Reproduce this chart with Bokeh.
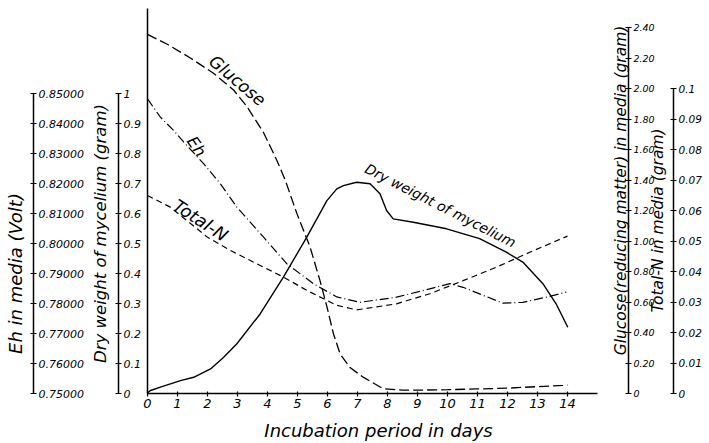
from bokeh.plotting import figure
from bokeh.models import LinearAxis, Range1d, FixedTicker, Label
from bokeh.embed import file_html
from bokeh.resources import INLINE

# ---------------- data ----------------
day_ticks = [0, 1, 2, 3, 4, 5, 6, 7, 8, 9, 10, 11, 12, 13, 14]
day_labels = [str(d) for d in day_ticks]

glucose_days = [0, 0.66, 1.43, 2.2, 2.87, 3.32, 3.87, 4.31, 4.59, 4.98, 5.42, 5.75, 5.98,
                6.2, 6.42, 6.75, 7.19, 7.86, 8.5, 9, 10, 11, 12, 13, 13.84, 14]
glucose_vals = [2.355, 2.29, 2.20, 2.10, 1.99, 1.88, 1.71, 1.53, 1.40, 1.18, 0.96, 0.74, 0.57,
                0.39, 0.26, 0.17, 0.107, 0.031, 0.022, 0.022, 0.025, 0.03, 0.035, 0.045, 0.053, 0.055]

eh_days = [0, 0.43, 0.87, 1.21, 1.87, 2.43, 2.98, 3.87, 4.65, 5.53, 6.31, 7.08, 8.3, 9.41,
           10.08, 10.52, 11.07, 11.85, 12.51, 13.29, 13.96]
eh_vals = [0.8482, 0.8421, 0.8377, 0.8338, 0.8266, 0.8199, 0.8121, 0.8021, 0.7932, 0.7866, 0.7822,
           0.7804, 0.7821, 0.7849, 0.7866, 0.7854, 0.7832, 0.7801, 0.7804, 0.7821, 0.7838]

totaln_days = [0, 0.76, 1.99, 2.76, 3.65, 4.53, 5.31, 6.31, 6.97, 8.3, 9.41, 10.52, 11.63, 12.74, 14]
totaln_vals = [0.0649, 0.0611, 0.0513, 0.0469, 0.0425, 0.0382, 0.0338, 0.0289, 0.0274, 0.0294,
               0.0327, 0.0370, 0.0414, 0.0463, 0.0516]

dry_days = [0, 0.1, 0.43, 1.1, 1.54, 2.1, 2.54, 2.98, 3.76, 4.53, 5.31, 5.98, 6.31, 6.53, 6.97,
            7.42, 7.75, 7.97, 8.19, 8.86, 9.97, 11.07, 11.96, 12.51, 13.18, 13.62, 14.01]
dry_vals = [0.003, 0.01, 0.021, 0.043, 0.054, 0.082, 0.121, 0.166, 0.266, 0.388, 0.521, 0.643,
            0.682, 0.693, 0.704, 0.699, 0.666, 0.61, 0.582, 0.571, 0.549, 0.516, 0.471, 0.438,
            0.366, 0.299, 0.221]

eh_ticks = [0.75, 0.76, 0.77, 0.78, 0.79, 0.80, 0.81, 0.82, 0.83, 0.84, 0.85]
eh_labels = ["0.75000", "0.76000", "0.77000", "0.78000", "0.79000", "0.80000",
             "0.81000", "0.82000", "0.83000", "0.84000", "0.85000"]
dry_ticks = [0, 0.1, 0.2, 0.3, 0.4, 0.5, 0.6, 0.7, 0.8, 0.9, 1]
dry_labels = ["0", "0.1", "0.2", "0.3", "0.4", "0.5", "0.6", "0.7", "0.8", "0.9", "1"]
glu_ticks = [0, 0.2, 0.4, 0.6, 0.8, 1.0, 1.2, 1.4, 1.6, 1.8, 2.0, 2.2, 2.4]
glu_labels = ["0", "0.20", "0.40", "0.60", "0.80", "1.00", "1.20", "1.40", "1.60",
              "1.80", "2.00", "2.20", "2.40"]
tn_ticks = [0, 0.01, 0.02, 0.03, 0.04, 0.05, 0.06, 0.07, 0.08, 0.09, 0.1]
tn_labels = ["0", "0.01", "0.02", "0.03", "0.04", "0.05", "0.06", "0.07", "0.08", "0.09", "0.1"]

# ---------------- layout constants ----------------
W, H = 709, 443
PX_DAY = 30.0          # pixels per day
X0_PX = 147            # pixel of day 0
Y0_PX = 393            # pixel (from top) of the zero line
PX_DRY = 300.0         # pixels per gram of mycelium
PX_GLU = 152.5
PX_TN = 3050.0

x_start = -X0_PX / PX_DAY
x_end = (W - X0_PX) / PX_DAY
below = H - Y0_PX

FONT = "DejaVu Sans"

p = figure(width=W, height=H, output_backend="svg", toolbar_location=None,
           x_range=Range1d(x_start, x_end),
           y_range=Range1d(-below / PX_DRY, Y0_PX / PX_DRY),
           x_axis_location=None, y_axis_location=None, min_border=0, title=None)
p.outline_line_color = None
p.grid.visible = False
p.background_fill_color = "white"
p.border_fill_color = "white"

p.extra_y_ranges = {
    "eh": Range1d(0.75 - below / (PX_DRY * 10), 0.75 + Y0_PX / (PX_DRY * 10)),
    "glu": Range1d(-below / PX_GLU, Y0_PX / PX_GLU),
    "tn": Range1d(-below / PX_TN, Y0_PX / PX_TN),
}


def value_axis(range_name, loc_px, ticks, labels, size):
    kw = {}
    if range_name is not None:
        kw["y_range_name"] = range_name
    ax = LinearAxis(fixed_location=(loc_px - X0_PX) / PX_DAY,
                    bounds=(ticks[0], ticks[-1]),
                    ticker=FixedTicker(ticks=ticks),
                    major_label_overrides=dict(zip(ticks, labels)),
                    major_tick_in=3, major_tick_out=3,
                    minor_tick_in=0, minor_tick_out=0,
                    axis_line_width=1.5, major_tick_line_width=1.2,
                    major_label_standoff=2,
                    major_label_text_font=FONT,
                    major_label_text_font_style="italic",
                    major_label_text_font_size=size,
                    major_label_text_color="black", **kw)
    p.add_layout(ax, "right")


value_axis("eh", 33, eh_ticks, eh_labels, "11px")
value_axis(None, 118, dry_ticks, dry_labels, "11px")
value_axis("glu", 628, glu_ticks, glu_labels, "9.5px")
value_axis("tn", 673, tn_ticks, tn_labels, "10.5px")

# main vertical line at day 0
main_ax = LinearAxis(fixed_location=0, bounds=(0, (Y0_PX - 8) / PX_DRY),
                     ticker=FixedTicker(ticks=[]), major_tick_in=0, major_tick_out=0,
                     minor_tick_in=0, minor_tick_out=0, axis_line_width=1.5)
p.add_layout(main_ax, "left")

# x axis
xax = LinearAxis(fixed_location=0, bounds=(0, 15), ticker=FixedTicker(ticks=day_ticks),
                 major_label_overrides=dict(zip(day_ticks, day_labels)),
                 major_tick_in=2, major_tick_out=3, minor_tick_in=0, minor_tick_out=0,
                 axis_line_width=1.5, major_tick_line_width=1.2, major_label_standoff=2,
                 major_label_text_font=FONT, major_label_text_font_style="italic",
                 major_label_text_font_size="13px", major_label_text_color="black")
p.add_layout(xax, "below")

# curves
p.line(glucose_days, glucose_vals, y_range_name="glu", line_color="black",
       line_width=1.3, line_dash="10 4")
p.line(eh_days, eh_vals, y_range_name="eh", line_color="black",
       line_width=1.2, line_dash="9 3 1 3")
p.line(totaln_days, totaln_vals, y_range_name="tn", line_color="black",
       line_width=1.2, line_dash="6 4")
p.line(dry_days, dry_vals, line_color="black", line_width=1.4)


def px_label(text, fx, fy, angle, size):
    """fx, fy in picture pixels (from top-left)."""
    lab = Label(x=(fx - X0_PX) / PX_DAY, y=(Y0_PX - fy) / PX_DRY, text=text,
                angle=angle, angle_units="deg", text_align="center",
                text_baseline="middle", text_font=FONT, text_font_style="italic",
                text_font_size=size, text_color="black")
    p.add_layout(lab)


# axis titles
px_label("Eh in media (Volt)", 15, 273, 90, "18px")
px_label("Dry weight of mycelium (gram)", 100, 233, 90, "16.5px")
px_label("Glucose(reducing matter) in media (gram)", 620, 190, 90, "15.5px")
px_label("Total-N in media (gram)", 657, 220, 90, "15.5px")
px_label("Incubation period in days", 378, 430, 0, "18px")

# curve labels
px_label("Glucose", 237, 80, -40, "17px")
px_label("Eh", 196, 146, -55, "16px")
px_label("Total-N", 200, 220, -33, "17.5px")
px_label("Dry weight of mycelium", 440, 205, -27, "14px")

open("out.html", "w").write(file_html(p, INLINE))
